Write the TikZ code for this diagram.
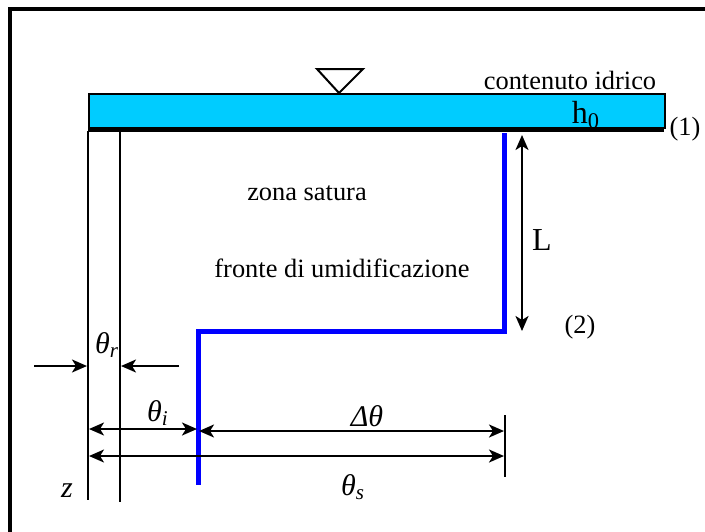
\documentclass[tikz,border=0pt]{standalone}
\usepackage{fontspec}
\setmainfont{Liberation Serif}
\usetikzlibrary{arrows.meta,positioning}
\usepackage{xcolor}
\definecolor{water}{HTML}{00CCFF}
\definecolor{front}{HTML}{0000FF}

\begin{document}
\begin{tikzpicture}[x=0.5pt, y=-0.5pt,
      txt/.style={font=\fontsize{13.2pt}{15pt}\selectfont, inner sep=0pt},
      big/.style={font=\fontsize{16pt}{18pt}\selectfont, inner sep=0pt},
      sym/.style={font=\fontsize{15pt}{17pt}\selectfont\itshape, inner sep=0pt},
      wall/.style={line width=1pt},
      dim/.style={line width=1pt, {Stealth[length=7.5pt,width=6.5pt,inset=2pt]}-{Stealth[length=7.5pt,width=6.5pt,inset=2pt]}},
      arr/.style={line width=1pt, -{Stealth[length=7.5pt,width=6.5pt,inset=2pt]}}
    ]
      \useasboundingbox (0,0) rectangle (705,531);
      % frame
      \draw[line width=1.8pt] (10,560) -- (10,9) -- (730,9);

      % ponded water
      \node[draw, fill=water, line width=1pt, minimum width=288pt, minimum height=17pt,
            inner sep=0pt] (bar) at (377,111) {};
      \draw[line width=2pt] (88,130) -- (664,130);
      \draw[line width=1pt] (317,69) -- (363,69) -- (339,93) -- cycle;
      \node[txt] (cont) at (570,80) {contenuto idrico};
      \node[big] (h0) at (586,115) {h\textsubscript{0}};
      \node[txt] (p1) at (685,129) {(1)};

      % soil column
      \coordinate (w1t) at (88,131);
      \coordinate (w1b) at (88,500);
      \coordinate (w2t) at (120,131);
      \coordinate (w2b) at (120,502);
      \draw[wall] (w1t) -- (w1b);
      \draw[wall] (w2t) -- (w2b);

      % wetting front
      \coordinate (ft) at (504,133);
      \coordinate (fc1) at (504,331);
      \coordinate (fc2) at (198,331);
      \coordinate (fb) at (198,485);
      \draw[front, line width=2.5pt] (ft) -- (fc1) -- (fc2) -- (fb);

      \node[txt] (zs) at (307,193) {zona satura};
      \node[txt] (fr) at (342,268) {fronte di umidificazione};

      % depth L
      \coordinate (Lt) at (522,135);
      \coordinate (Lb) at (522,331);
      \draw[dim] (Lt) -- (Lb);
      \node[big] (L) at (542,240) {L};
      \node[txt] (p2) at (580,327) {(2)};

      % theta_r
      \coordinate (ra) at (34,366);
      \coordinate (rb) at (179,366);
      \draw[arr] (ra) -- (87,366);
      \draw[arr] (rb) -- (121,366);
      \node[sym] (thr) at (107,345) {θ\textsubscript{r}};

      % theta_i, delta theta, theta_s
      \coordinate (tk1) at (505,415);
      \coordinate (tk2) at (505,477);
      \draw[wall] (tk1) -- (tk2);
      \draw[dim] (89,429) -- (197,429);
      \draw[dim] (199,431) -- (504,431);
      \draw[dim] (89,456) -- (504,456);
      \node[sym] (thi) at (158,413) {θ\textsubscript{i}};
      \node[sym] (dth) at (367,416) {Δθ};
      \node[sym] (ths) at (353,487) {θ\textsubscript{s}};
      \node[sym] (z) at (67,491) {z};
    \end{tikzpicture}
\end{document}
